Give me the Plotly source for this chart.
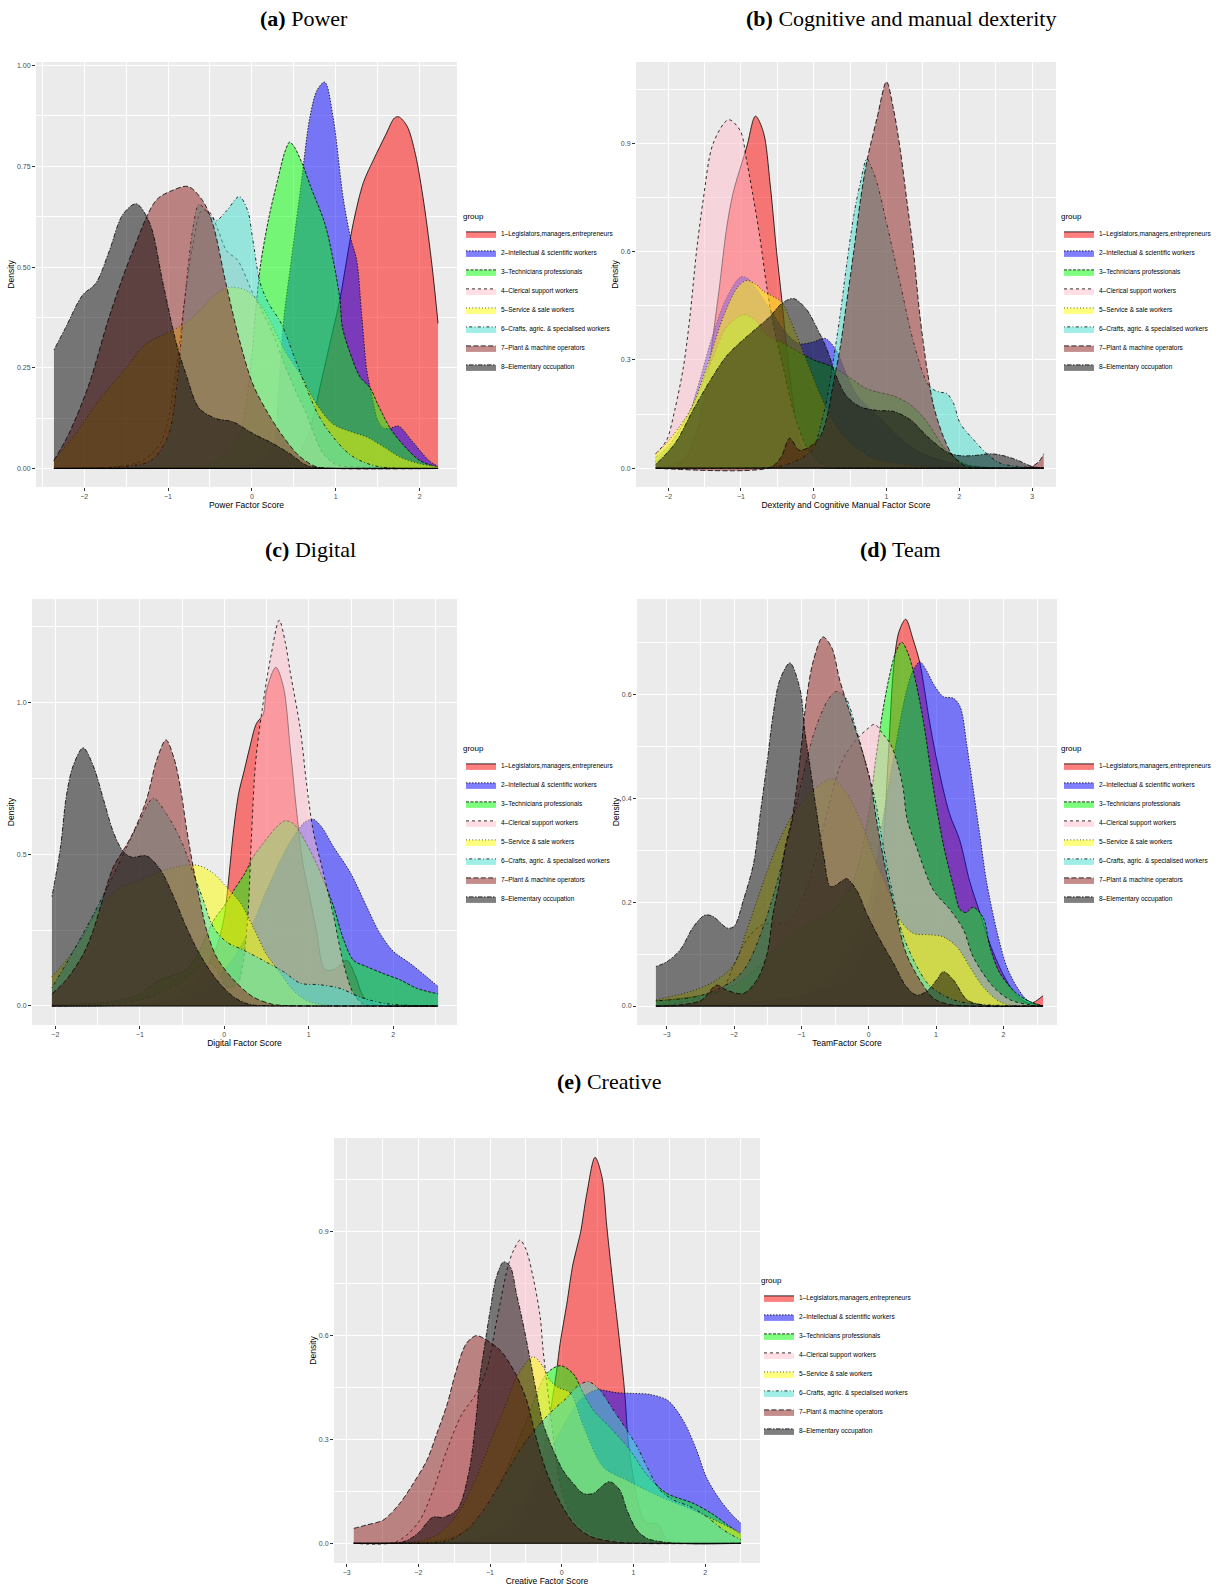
import plotly.graph_objects as go

# ---------------- groups / styles ----------------
groups = ["1–Legislators,managers,entrepreneurs", "2–Intellectual & scientific workers",
          "3–Technicians professionals", "4–Clerical support workers", "5–Service & sale workers",
          "6–Crafts, agric. & specialised workers", "7–Plant & machine operators",
          "8–Elementary occupation"]
fill_colors = ["rgba(255,0,0,0.5)", "rgba(0,0,255,0.5)", "rgba(0,255,0,0.5)", "rgba(255,192,203,0.5)",
               "rgba(255,255,0,0.5)", "rgba(64,224,208,0.5)", "rgba(140,25,25,0.5)", "rgba(0,0,0,0.5)"]
dashes = ["solid", "1.5px,1.5px", "3px,1.5px", "3px,3px", "0.8px,2.4px",
          "0.8px,2.4px,3px,2.4px", "5px,2.4px", "1.5px,1.5px,4.5px,1.5px"]

# ---------------- (a) Power ----------------
a1_x = [-2.36, -1.0, 0.0, 0.3, 0.5, 0.6, 0.7, 0.81, 0.93, 1.05, 1.13, 1.21, 1.33, 1.45, 1.6, 1.7, 1.75, 1.85, 1.95, 2.05, 2.15, 2.22]
a1_y = [0, 0, 0.002, 0.005, 0.02, 0.05, 0.1, 0.2, 0.31, 0.42, 0.517, 0.61, 0.71, 0.766, 0.83, 0.87, 0.873, 0.85, 0.78, 0.66, 0.5, 0.36]
a2_x = [-2.36, -1.5, -0.5, 0.0, 0.15, 0.25, 0.32, 0.38, 0.47, 0.59, 0.69, 0.78, 0.87, 0.97, 1.09, 1.18, 1.25, 1.31, 1.37, 1.41, 1.45, 1.5, 1.57, 1.65, 1.75, 1.91, 2.11, 2.22]
a2_y = [0, 0.003, 0.005, 0.01, 0.025, 0.05, 0.2, 0.37, 0.517, 0.71, 0.87, 0.94, 0.959, 0.87, 0.67, 0.57, 0.517, 0.38, 0.244, 0.2, 0.16, 0.12, 0.1, 0.1, 0.105, 0.068, 0.02, 0.005]
a3_x = [-2.36, -1.0, -0.6, -0.4, -0.2, -0.1, 0.0, 0.05, 0.1, 0.2, 0.3, 0.4, 0.45, 0.5, 0.6, 0.7, 0.87, 0.97, 1.05, 1.08, 1.2, 1.29, 1.41, 1.5, 1.65, 1.8, 2.0, 2.22]
a3_y = [0, 0.003, 0.005, 0.02, 0.06, 0.12, 0.28, 0.4, 0.5, 0.62, 0.71, 0.79, 0.81, 0.8, 0.757, 0.7, 0.608, 0.517, 0.42, 0.35, 0.27, 0.227, 0.2, 0.16, 0.1, 0.06, 0.02, 0.003]
a4_x = [-2.36, -1.6, -1.3, -1.1, -1.0, -0.9, -0.8, -0.7, -0.6, -0.5, -0.4, -0.3, -0.17, 0.01, 0.1, 0.25, 0.35, 0.45, 0.55, 0.65, 0.75, 0.85, 1.0, 1.3, 1.6, 2.22]
a4_y = [0, 0.005, 0.02, 0.06, 0.12, 0.25, 0.42, 0.56, 0.64, 0.635, 0.59, 0.54, 0.517, 0.435, 0.4, 0.335, 0.28, 0.227, 0.18, 0.137, 0.08, 0.037, 0.01, 0.003, 0.001, 0]
a5_x = [-2.36, -2.1, -1.82, -1.5, -1.26, -1.02, -0.8, -0.63, -0.45, -0.3, -0.23, -0.1, 0.01, 0.17, 0.29, 0.4, 0.57, 0.77, 0.97, 1.2, 1.37, 1.6, 1.76, 2.0, 2.22]
a5_y = [0.02, 0.087, 0.17, 0.25, 0.31, 0.335, 0.36, 0.39, 0.43, 0.448, 0.45, 0.445, 0.43, 0.385, 0.335, 0.29, 0.236, 0.16, 0.11, 0.09, 0.078, 0.05, 0.029, 0.012, 0.005]
a6_x = [-2.36, -1.5, -1.2, -1.0, -0.9, -0.8, -0.7, -0.63, -0.5, -0.43, -0.3, -0.15, -0.05, 0.01, 0.1, 0.2, 0.35, 0.5, 0.65, 0.8, 1.0, 1.2, 1.5, 2.22]
a6_y = [0, 0.005, 0.02, 0.08, 0.2, 0.42, 0.6, 0.655, 0.63, 0.615, 0.64, 0.675, 0.64, 0.57, 0.46, 0.41, 0.36, 0.28, 0.2, 0.13, 0.07, 0.03, 0.005, 0]
a7_x = [-2.36, -2.18, -1.94, -1.7, -1.42, -1.14, -0.95, -0.76, -0.59, -0.47, -0.31, -0.15, 0.01, 0.17, 0.37, 0.57, 0.77, 1.0, 2.22]
a7_y = [0.02, 0.087, 0.21, 0.377, 0.54, 0.666, 0.69, 0.70, 0.666, 0.61, 0.46, 0.32, 0.21, 0.145, 0.08, 0.03, 0.004, 0, 0]
a8_x = [-2.36, -2.22, -2.02, -1.86, -1.7, -1.54, -1.38, -1.22, -1.06, -0.9, -0.78, -0.63, -0.43, -0.23, 0.01, 0.25, 0.45, 0.65, 0.8, 1.0, 2.22]
a8_y = [0.294, 0.35, 0.43, 0.46, 0.54, 0.63, 0.657, 0.61, 0.46, 0.31, 0.23, 0.15, 0.124, 0.116, 0.087, 0.062, 0.037, 0.008, 0.002, 0, 0]

# ---------------- (b) Cognitive and manual dexterity ----------------
b1_x = [-2.17, -1.79, -1.61, -1.47, -1.38, -1.29, -1.2, -1.11, -0.92, -0.8, -0.69, -0.6, -0.51, -0.44, -0.37, -0.28, -0.19, -0.05, 0.1, 0.25, 3.16]
b1_y = [0, 0.023, 0.1, 0.235, 0.37, 0.51, 0.66, 0.76, 0.89, 0.975, 0.93, 0.79, 0.6, 0.47, 0.33, 0.18, 0.07, 0.014, 0.001, 0, 0]
b2_x = [-2.17, -1.8, -1.6, -1.4, -1.2, -1.0, -0.9, -0.8, -0.6, -0.4, -0.2, 0.0, 0.15, 0.3, 0.45, 0.6, 0.8, 1.0, 1.2, 1.5, 1.8, 2.2, 3.16]
b2_y = [0.02, 0.1, 0.22, 0.36, 0.47, 0.53, 0.525, 0.5, 0.44, 0.38, 0.345, 0.35, 0.36, 0.33, 0.26, 0.2, 0.16, 0.12, 0.08, 0.04, 0.02, 0.005, 0]
b3_x = [-2.17, -2.0, -1.8, -1.6, -1.4, -1.2, -0.97, -0.8, -0.65, -0.45, -0.28, 0.0, 0.27, 0.5, 0.73, 0.9, 1.1, 1.3, 1.42, 1.55, 1.65, 1.78, 1.88, 2.0, 2.1, 2.3, 3.16]
b3_y = [0.03, 0.06, 0.12, 0.2, 0.3, 0.39, 0.425, 0.41, 0.37, 0.35, 0.33, 0.3, 0.28, 0.25, 0.22, 0.21, 0.2, 0.18, 0.16, 0.13, 0.1, 0.06, 0.04, 0.02, 0.01, 0.003, 0]
b4_x = [-2.17, -2.02, -1.91, -1.79, -1.7, -1.61, -1.52, -1.38, -1.17, -1.01, -0.92, -0.83, -0.74, -0.65, -0.56, -0.42, -0.28, -0.1, 0.09, 0.27, 0.45, 3.16]
b4_y = [0.04, 0.078, 0.16, 0.28, 0.42, 0.6, 0.74, 0.9, 0.965, 0.935, 0.85, 0.75, 0.64, 0.51, 0.4, 0.28, 0.16, 0.06, 0.014, 0.001, 0, 0]
b5_x = [-2.17, -2.02, -1.7, -1.47, -1.24, -1.05, -0.92, -0.8, -0.69, -0.55, -0.44, -0.3, -0.1, 0.1, 0.3, 0.5, 0.8, 1.1, 1.5, 2.0, 2.4, 3.16]
b5_y = [0.04, 0.07, 0.16, 0.28, 0.42, 0.5, 0.52, 0.51, 0.49, 0.475, 0.46, 0.4, 0.3, 0.2, 0.12, 0.07, 0.03, 0.015, 0.005, 0.001, 0, 0]
b6_x = [-2.17, -0.6, -0.37, -0.15, 0.0, 0.09, 0.18, 0.27, 0.36, 0.45, 0.55, 0.64, 0.73, 0.8, 0.87, 1.0, 1.19, 1.37, 1.56, 1.65, 1.75, 1.83, 1.92, 2.01, 2.2, 2.38, 2.56, 2.8, 3.16]
b6_y = [0, 0.002, 0.01, 0.03, 0.055, 0.115, 0.19, 0.3, 0.42, 0.56, 0.7, 0.79, 0.857, 0.83, 0.79, 0.68, 0.51, 0.35, 0.235, 0.217, 0.21, 0.207, 0.18, 0.125, 0.078, 0.04, 0.014, 0.005, 0]
b7_x = [-2.17, -0.6, -0.45, -0.33, -0.2, -0.05, 0.09, 0.18, 0.27, 0.36, 0.45, 0.55, 0.64, 0.73, 0.87, 1.0, 1.1, 1.19, 1.28, 1.37, 1.46, 1.56, 1.65, 1.78, 1.92, 2.1, 2.3, 2.6, 2.9, 3.0, 3.1, 3.16]
b7_y = [0, 0.002, 0.03, 0.083, 0.05, 0.06, 0.088, 0.14, 0.235, 0.33, 0.456, 0.6, 0.74, 0.85, 0.97, 1.07, 0.99, 0.88, 0.74, 0.6, 0.42, 0.27, 0.17, 0.088, 0.032, 0.005, 0.001, 0, 0.001, 0.005, 0.02, 0.04]
b8_x = [-2.17, -1.9, -1.66, -1.4, -1.2, -1.0, -0.83, -0.6, -0.44, -0.28, -0.1, 0.04, 0.18, 0.32, 0.45, 0.64, 0.87, 1.1, 1.33, 1.56, 1.83, 2.0, 2.2, 2.43, 2.6, 2.79, 3.0, 3.16]
b8_y = [0.01, 0.07, 0.16, 0.25, 0.31, 0.35, 0.38, 0.42, 0.456, 0.47, 0.44, 0.39, 0.33, 0.25, 0.2, 0.17, 0.16, 0.157, 0.134, 0.088, 0.045, 0.035, 0.035, 0.04, 0.035, 0.023, 0.005, 0]

# ---------------- (c) Digital ----------------
c1_x = [-2.04, -1.0, -0.52, -0.37, -0.21, -0.09, -0.01, 0.03, 0.07, 0.11, 0.17, 0.24, 0.3, 0.38, 0.46, 0.5, 0.61, 0.7, 0.78, 0.86, 0.93, 1.01, 1.09, 1.19, 1.3, 1.45, 1.55, 1.65, 1.8, 2.0, 2.53]
c1_y = [0, 0.005, 0.02, 0.064, 0.13, 0.195, 0.28, 0.36, 0.47, 0.58, 0.70, 0.78, 0.85, 0.93, 0.96, 1.04, 1.115, 1.05, 0.85, 0.63, 0.47, 0.36, 0.25, 0.12, 0.12, 0.15, 0.1, 0.03, 0.005, 0, 0]
c2_x = [-2.04, -1.0, -0.5, 0.0, 0.3, 0.5, 0.7, 0.85, 0.95, 1.05, 1.15, 1.29, 1.49, 1.68, 1.84, 2.0, 2.2, 2.39, 2.53]
c2_y = [0, 0.005, 0.03, 0.12, 0.25, 0.38, 0.5, 0.57, 0.605, 0.615, 0.59, 0.525, 0.44, 0.33, 0.24, 0.18, 0.14, 0.097, 0.064]
c3_x = [-2.04, -1.5, -1.08, -0.76, -0.45, -0.3, -0.13, 0.0, 0.11, 0.25, 0.34, 0.5, 0.62, 0.72, 0.82, 0.9, 1.09, 1.29, 1.41, 1.53, 1.68, 1.88, 2.08, 2.28, 2.53]
c3_y = [0.005, 0.01, 0.03, 0.086, 0.12, 0.18, 0.28, 0.33, 0.38, 0.44, 0.49, 0.55, 0.59, 0.61, 0.6, 0.57, 0.47, 0.33, 0.22, 0.15, 0.13, 0.107, 0.086, 0.058, 0.04]
c4_x = [-2.04, -1.5, -1.0, -0.5, -0.3, -0.15, -0.05, 0.03, 0.15, 0.22, 0.28, 0.32, 0.37, 0.45, 0.55, 0.65, 0.72, 0.78, 0.9, 0.97, 1.05, 1.17, 1.29, 1.41, 1.53, 1.65, 1.85, 2.53]
c4_y = [0, 0.005, 0.02, 0.08, 0.13, 0.14, 0.1, 0.06, 0.07, 0.14, 0.3, 0.55, 0.8, 0.98, 1.15, 1.27, 1.2, 1.1, 0.91, 0.74, 0.58, 0.44, 0.3, 0.14, 0.04, 0.005, 0, 0]
c5_x = [-2.04, -1.87, -1.67, -1.47, -1.23, -1.0, -0.68, -0.33, -0.13, 0.03, 0.19, 0.34, 0.5, 0.66, 0.82, 1.01, 1.29, 1.5, 2.53]
c5_y = [0.097, 0.15, 0.23, 0.33, 0.39, 0.415, 0.45, 0.464, 0.437, 0.39, 0.34, 0.26, 0.17, 0.11, 0.05, 0.014, 0.001, 0, 0]
c6_x = [-2.04, -1.87, -1.59, -1.35, -1.16, -1.0, -0.84, -0.68, -0.52, -0.37, -0.25, -0.13, 0.03, 0.22, 0.46, 0.7, 0.9, 1.13, 1.37, 1.6, 1.88, 2.2, 2.53]
c6_y = [0.06, 0.14, 0.28, 0.41, 0.52, 0.61, 0.684, 0.63, 0.55, 0.44, 0.35, 0.26, 0.21, 0.185, 0.15, 0.113, 0.075, 0.07, 0.058, 0.03, 0.009, 0.002, 0]
c7_x = [-2.04, -1.87, -1.67, -1.55, -1.43, -1.31, -1.2, -1.08, -0.92, -0.8, -0.69, -0.6, -0.52, -0.45, -0.37, -0.29, -0.21, -0.09, 0.11, 0.34, 0.58, 0.8, 1.0, 2.53]
c7_y = [0.04, 0.086, 0.17, 0.25, 0.36, 0.46, 0.51, 0.57, 0.68, 0.81, 0.876, 0.82, 0.72, 0.59, 0.46, 0.35, 0.25, 0.16, 0.086, 0.03, 0.005, 0.001, 0, 0]
c8_x = [-2.04, -1.94, -1.87, -1.79, -1.67, -1.55, -1.43, -1.31, -1.2, -1.1, -0.92, -0.76, -0.6, -0.45, -0.29, -0.09, 0.11, 0.3, 0.5, 0.7, 2.53]
c8_y = [0.36, 0.52, 0.69, 0.79, 0.85, 0.79, 0.68, 0.57, 0.51, 0.49, 0.494, 0.45, 0.36, 0.26, 0.17, 0.086, 0.03, 0.005, 0.001, 0, 0]

# ---------------- (d) Team ----------------
d1_x = [-3.16, -2.0, -1.0, -0.5, -0.2, 0.0, 0.1, 0.2, 0.25, 0.3, 0.37, 0.45, 0.55, 0.66, 0.76, 0.9, 1.0, 1.2, 1.35, 1.5, 1.65, 1.8, 2.0, 2.2, 2.4, 2.59]
d1_y = [0, 0.005, 0.02, 0.04, 0.08, 0.14, 0.2, 0.28, 0.38, 0.5, 0.65, 0.72, 0.744, 0.705, 0.66, 0.55, 0.48, 0.37, 0.32, 0.24, 0.18, 0.12, 0.06, 0.02, 0.005, 0.02]
d2_x = [-3.16, -1.0, -0.6, -0.3, 0.0, 0.2, 0.4, 0.55, 0.66, 0.76, 0.86, 0.96, 1.11, 1.26, 1.36, 1.46, 1.55, 1.65, 1.75, 1.9, 2.05, 2.2, 2.35, 2.59]
d2_y = [0, 0.02, 0.05, 0.1, 0.2, 0.35, 0.5, 0.6, 0.646, 0.662, 0.645, 0.62, 0.595, 0.592, 0.575, 0.5, 0.42, 0.33, 0.24, 0.146, 0.076, 0.037, 0.012, 0]
d3_x = [-3.16, -2.5, -2.0, -1.6, -1.3, -1.0, -0.7, -0.4, -0.2, 0.0, 0.1, 0.2, 0.3, 0.4, 0.49, 0.58, 0.66, 0.81, 0.96, 1.11, 1.26, 1.36, 1.45, 1.55, 1.7, 1.8, 1.95, 2.2, 2.4, 2.59]
d3_y = [0.01, 0.02, 0.04, 0.08, 0.12, 0.15, 0.17, 0.2, 0.25, 0.37, 0.47, 0.56, 0.63, 0.68, 0.70, 0.68, 0.646, 0.55, 0.42, 0.31, 0.23, 0.185, 0.18, 0.19, 0.17, 0.114, 0.063, 0.024, 0.008, 0]
d4_x = [-3.16, -2.2, -2.0, -1.8, -1.6, -1.4, -1.2, -1.0, -0.8, -0.6, -0.4, -0.2, 0.0, 0.09, 0.2, 0.32, 0.42, 0.51, 0.57, 0.71, 0.96, 1.21, 1.41, 1.55, 1.85, 2.1, 2.4, 2.59]
d4_y = [0, 0.03, 0.08, 0.13, 0.155, 0.16, 0.16, 0.2, 0.28, 0.38, 0.47, 0.51, 0.535, 0.542, 0.525, 0.505, 0.47, 0.42, 0.36, 0.306, 0.223, 0.185, 0.146, 0.095, 0.037, 0.012, 0.002, 0]
d5_x = [-3.16, -2.6, -2.26, -2.0, -1.81, -1.56, -1.37, -1.12, -0.87, -0.55, -0.33, -0.13, 0.07, 0.27, 0.47, 0.66, 0.91, 1.11, 1.31, 1.5, 1.7, 1.95, 2.2, 2.59]
d5_y = [0.012, 0.03, 0.05, 0.08, 0.146, 0.24, 0.306, 0.37, 0.41, 0.437, 0.41, 0.36, 0.29, 0.23, 0.165, 0.14, 0.137, 0.133, 0.114, 0.076, 0.037, 0.008, 0, 0]
d6_x = [-3.16, -2.5, -2.0, -1.8, -1.6, -1.4, -1.2, -1.0, -0.8, -0.6, -0.48, -0.35, -0.18, -0.03, 0.09, 0.2, 0.35, 0.5, 0.7, 0.9, 1.2, 1.5, 2.59]
d6_y = [0.01, 0.02, 0.05, 0.08, 0.14, 0.22, 0.32, 0.43, 0.53, 0.59, 0.605, 0.595, 0.53, 0.46, 0.40, 0.32, 0.22, 0.14, 0.08, 0.04, 0.015, 0.005, 0]
d7_x = [-3.16, -2.5, -2.26, -2.1, -1.86, -1.66, -1.51, -1.42, -1.32, -1.24, -1.14, -1.07, -1.0, -0.92, -0.82, -0.68, -0.55, -0.43, -0.28, -0.13, 0.02, 0.12, 0.25, 0.4, 0.56, 0.76, 0.96, 1.2, 2.59]
d7_y = [0, 0.01, 0.04, 0.03, 0.024, 0.05, 0.1, 0.178, 0.24, 0.306, 0.36, 0.42, 0.5, 0.595, 0.665, 0.71, 0.69, 0.627, 0.565, 0.505, 0.435, 0.355, 0.265, 0.18, 0.1, 0.05, 0.015, 0.003, 0]
d8_x = [-3.16, -3.0, -2.8, -2.6, -2.43, -2.31, -2.1, -2.0, -1.86, -1.71, -1.61, -1.51, -1.42, -1.32, -1.17, -1.02, -0.95, -0.87, -0.77, -0.67, -0.57, -0.48, -0.33, -0.18, -0.03, 0.17, 0.37, 0.56, 0.71, 0.86, 1.01, 1.11, 1.26, 1.46, 1.7, 2.59]
d8_y = [0.076, 0.085, 0.108, 0.153, 0.175, 0.172, 0.15, 0.153, 0.204, 0.274, 0.37, 0.467, 0.56, 0.627, 0.66, 0.61, 0.53, 0.46, 0.37, 0.29, 0.23, 0.233, 0.245, 0.223, 0.178, 0.127, 0.082, 0.037, 0.021, 0.028, 0.05, 0.066, 0.05, 0.012, 0.002, 0]

# ---------------- (e) Creative ----------------
e1_x = [-2.9, -1.5, -1.2, -0.8, -0.5, -0.3, -0.12, -0.07, -0.02, 0.07, 0.16, 0.26, 0.35, 0.465, 0.56, 0.63, 0.72, 0.81, 0.88, 0.93, 1.0, 1.09, 1.19, 1.33, 1.47, 1.7, 2.5]
e1_y = [0, 0.003, 0.01, 0.03, 0.1, 0.22, 0.43, 0.5, 0.58, 0.69, 0.81, 0.895, 1.01, 1.115, 1.06, 0.914, 0.74, 0.577, 0.433, 0.29, 0.19, 0.096, 0.058, 0.058, 0.01, 0, 0]
e2_x = [-2.9, -1.5, -1.1, -0.8, -0.6, -0.4, -0.2, 0.0, 0.2, 0.35, 0.49, 0.77, 1.0, 1.23, 1.47, 1.6, 1.74, 1.88, 2.02, 2.21, 2.4, 2.5]
e2_y = [0, 0.005, 0.02, 0.05, 0.1, 0.17, 0.25, 0.33, 0.4, 0.43, 0.443, 0.435, 0.433, 0.43, 0.414, 0.385, 0.337, 0.27, 0.19, 0.125, 0.077, 0.058]
e3_x = [-2.9, -1.5, -1.1, -0.8, -0.5, -0.21, -0.02, 0.16, 0.3, 0.44, 0.67, 0.95, 1.18, 1.46, 1.83, 2.1, 2.3, 2.5]
e3_y = [0, 0.02, 0.08, 0.2, 0.35, 0.49, 0.513, 0.49, 0.434, 0.385, 0.336, 0.27, 0.2, 0.145, 0.116, 0.085, 0.055, 0.025]
e4_x = [-2.9, -2.3, -2.0, -1.8, -1.6, -1.4, -1.2, -1.05, -0.9, -0.75, -0.67, -0.58, -0.5, -0.4, -0.3, -0.26, -0.2, -0.1, 0.0, 0.2, 0.5, 1.0, 1.4, 2.5]
e4_y = [0, 0.005, 0.06, 0.15, 0.27, 0.37, 0.43, 0.5, 0.65, 0.8, 0.847, 0.876, 0.85, 0.77, 0.654, 0.56, 0.45, 0.28, 0.15, 0.06, 0.02, 0.005, 0, 0]
e5_x = [-2.9, -2.0, -1.7, -1.42, -1.19, -1.0, -0.81, -0.63, -0.4, -0.26, -0.16, -0.05, 0.12, 0.3, 0.58, 0.9, 1.37, 1.83, 2.2, 2.5]
e5_y = [0, 0.005, 0.03, 0.096, 0.19, 0.29, 0.385, 0.48, 0.539, 0.51, 0.47, 0.45, 0.434, 0.34, 0.22, 0.183, 0.135, 0.096, 0.06, 0.03]
e6_x = [-2.9, -1.8, -1.56, -1.33, -1.09, -0.86, -0.67, -0.49, -0.3, -0.12, 0.07, 0.21, 0.37, 0.53, 0.72, 0.91, 1.05, 1.19, 1.37, 1.56, 1.79, 2.02, 2.26, 2.5]
e6_y = [0, 0.002, 0.01, 0.038, 0.096, 0.173, 0.24, 0.298, 0.346, 0.385, 0.42, 0.452, 0.467, 0.443, 0.385, 0.327, 0.28, 0.221, 0.154, 0.125, 0.106, 0.077, 0.038, 0.01]
e7_x = [-2.9, -2.72, -2.49, -2.26, -2.07, -1.88, -1.74, -1.6, -1.47, -1.33, -1.19, -1.05, -0.86, -0.67, -0.5, -0.35, -0.2, 0.0, 0.2, 0.4, 0.7, 1.0, 2.5]
e7_y = [0.043, 0.053, 0.067, 0.115, 0.173, 0.24, 0.318, 0.4, 0.5, 0.577, 0.6, 0.587, 0.558, 0.5, 0.42, 0.3, 0.2, 0.11, 0.05, 0.02, 0.005, 0, 0]
e8_x = [-2.9, -2.2, -2.0, -1.8, -1.65, -1.45, -1.3, -1.2, -1.14, -1.07, -1.0, -0.91, -0.81, -0.72, -0.63, -0.53, -0.44, -0.35, -0.26, -0.12, 0.02, 0.16, 0.3, 0.44, 0.58, 0.67, 0.81, 0.91, 1.05, 1.19, 1.37, 1.6, 2.5]
e8_y = [0, 0.005, 0.03, 0.075, 0.075, 0.1, 0.2, 0.35, 0.48, 0.577, 0.67, 0.77, 0.813, 0.8, 0.72, 0.626, 0.53, 0.433, 0.346, 0.27, 0.21, 0.173, 0.144, 0.144, 0.168, 0.178, 0.154, 0.096, 0.038, 0.014, 0.005, 0, 0]

# ---------------- panel text ----------------
panel_titles = ["<b>(a)</b> Power", "<b>(b)</b> Cognitive and manual dexterity", "<b>(c)</b> Digital",
                "<b>(d)</b> Team", "<b>(e)</b> Creative"]
x_titles = ["Power Factor Score", "Dexterity and Cognitive Manual Factor Score", "Digital Factor Score",
            "TeamFactor Score", "Creative Factor Score"]
y_ticks = [[0, 0.25, 0.5, 0.75, 1.0], [0, 0.3, 0.6, 0.9], [0, 0.5, 1.0], [0, 0.2, 0.4, 0.6], [0, 0.3, 0.6, 0.9]]
x_ticks = [[-2, -1, 0, 1, 2], [-2, -1, 0, 1, 2, 3], [-2, -1, 0, 1, 2], [-3, -2, -1, 0, 1, 2], [-3, -2, -1, 0, 1, 2]]

panel_data = [
    [(a1_x, a1_y), (a2_x, a2_y), (a3_x, a3_y), (a4_x, a4_y), (a5_x, a5_y), (a6_x, a6_y), (a7_x, a7_y), (a8_x, a8_y)],
    [(b1_x, b1_y), (b2_x, b2_y), (b3_x, b3_y), (b4_x, b4_y), (b5_x, b5_y), (b6_x, b6_y), (b7_x, b7_y), (b8_x, b8_y)],
    [(c1_x, c1_y), (c2_x, c2_y), (c3_x, c3_y), (c4_x, c4_y), (c5_x, c5_y), (c6_x, c6_y), (c7_x, c7_y), (c8_x, c8_y)],
    [(d1_x, d1_y), (d2_x, d2_y), (d3_x, d3_y), (d4_x, d4_y), (d5_x, d5_y), (d6_x, d6_y), (d7_x, d7_y), (d8_x, d8_y)],
    [(e1_x, e1_y), (e2_x, e2_y), (e3_x, e3_y), (e4_x, e4_y), (e5_x, e5_y), (e6_x, e6_y), (e7_x, e7_y), (e8_x, e8_y)],
]

# ---------------- layout geometry (pixels) ----------------
W, H = 1219, 1587
boxes = [(36, 457, 62, 487), (636, 1056, 62, 487), (32, 457, 599, 1025), (637, 1057, 599, 1025), (334, 760, 1138, 1563)]
x_ranges = [[-2.574, 2.446], [-2.441, 3.328], [-2.276, 2.754], [-3.441, 2.797], [-3.176, 2.766]]
y_ranges = [[-0.046, 1.009], [-0.052, 1.125], [-0.0626, 1.340], [-0.0365, 0.783], [-0.057, 1.171]]
y_formats = [".2f", ".1f", ".1f", ".1f", ".1f"]
title_pos = [(304, 19), (901, 19), (310, 549), (901, 549), (609, 1081)]
legend_pos = [(461, 209), (1059, 209), (461, 741), (1059, 741), (759, 1273)]

FONT = "Liberation Sans, Arial, sans-serif"
fig = go.Figure()

for p in range(5):
    sfx = "" if p == 0 else str(p + 1)
    leg = "legend" + sfx
    for g in range(8):
        xs, ys = panel_data[p][g]
        fig.add_trace(go.Scatter(
            x=xs, y=ys, mode="lines", name=groups[g],
            line=dict(color="black", width=0.8, dash=dashes[g], shape="spline", smoothing=0.9),
            fill="tozeroy", fillcolor=fill_colors[g],
            xaxis="x" + sfx, yaxis="y" + sfx, legend=leg, showlegend=True,
            hoverinfo="skip"))
    l, r, t, b = boxes[p]
    fig.layout["xaxis" + sfx] = dict(
        domain=[l / W, r / W], range=x_ranges[p], anchor="y" + sfx,
        tickvals=x_ticks[p], ticks="outside", ticklen=3, tickcolor="#333333", tickwidth=0.8,
        tickfont=dict(family=FONT, size=7, color="#4D4D4D"),
        showgrid=True, gridcolor="white", gridwidth=1, zeroline=False, showline=False,
        minor=dict(dtick=0.5, tick0=0, showgrid=True, gridcolor="white", gridwidth=0.5, ticks=""),
        title=dict(text=x_titles[p], font=dict(family=FONT, size=8.5, color="black"), standoff=2),
        fixedrange=True)
    ystep = y_ticks[p][1] - y_ticks[p][0]
    fig.layout["yaxis" + sfx] = dict(
        domain=[1 - b / H, 1 - t / H], range=y_ranges[p], anchor="x" + sfx,
        tickvals=y_ticks[p], tickformat=y_formats[p], ticks="outside", ticklen=3,
        tickcolor="#333333", tickwidth=0.8,
        tickfont=dict(family=FONT, size=7, color="#4D4D4D"),
        showgrid=True, gridcolor="white", gridwidth=1, zeroline=False, showline=False,
        minor=dict(dtick=ystep / 2, tick0=0, showgrid=True, gridcolor="white", gridwidth=0.5, ticks=""),
        title=dict(text="Density", font=dict(family=FONT, size=8.5, color="black"), standoff=0),
        fixedrange=True)
    lx, ly = legend_pos[p]
    fig.layout[leg] = dict(
        x=lx / W, y=1 - ly / H, xanchor="left", yanchor="top",
        title=dict(text="group", font=dict(family=FONT, size=8, color="black")),
        font=dict(family=FONT, size=6.5, color="black"),
        bgcolor="rgba(0,0,0,0)", itemwidth=30, tracegroupgap=0)
    # zero baseline of the density polygons
    xmin = min(xy[0][0] for xy in panel_data[p])
    xmax = max(xy[0][-1] for xy in panel_data[p])
    fig.add_shape(type="line", x0=xmin, x1=xmax, y0=0, y1=0, xref="x" + sfx, yref="y" + sfx,
                  line=dict(color="black", width=1.2))
    tx, ty = title_pos[p]
    fig.add_annotation(text=panel_titles[p], x=tx / W, y=1 - ty / H, xref="paper", yref="paper",
                       xanchor="center", yanchor="middle", showarrow=False,
                       font=dict(family="Liberation Serif, serif", size=22, color="black"))

fig.update_layout(width=W, height=H, autosize=False, margin=dict(l=0, r=0, t=0, b=0),
                  paper_bgcolor="white", plot_bgcolor="#EBEBEB", showlegend=True,
                  font=dict(family=FONT))

fig.write_html("out.html", include_plotlyjs=True, config={"displayModeBar": False},
               post_script="document.body.style.margin='0';document.body.style.overflow='hidden';")
